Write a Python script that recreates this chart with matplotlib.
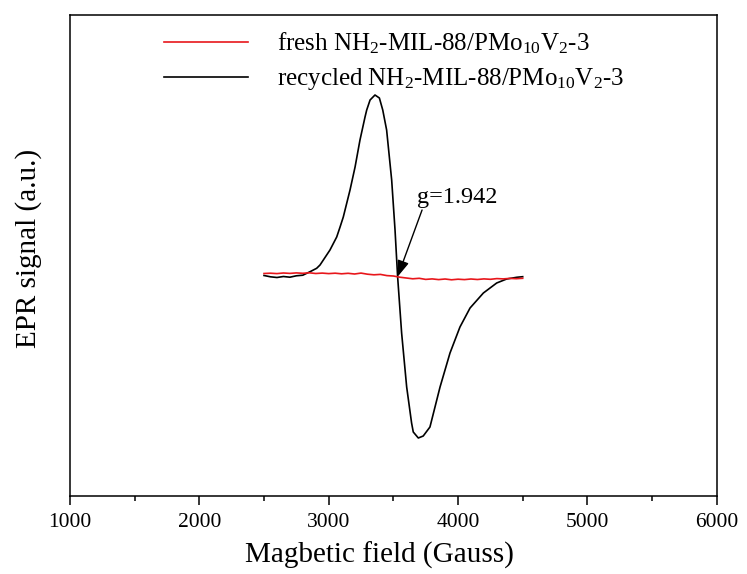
import matplotlib
matplotlib.use("Agg")
import matplotlib.pyplot as plt
from matplotlib.ticker import MultipleLocator

plt.rcParams['font.family'] = ['Liberation Serif', 'DejaVu Serif']
plt.rcParams['mathtext.fontset'] = 'custom'
plt.rcParams['mathtext.rm'] = 'Liberation Serif'
plt.rcParams['mathtext.it'] = 'Liberation Serif:italic'

# Magnetic field (Gauss) and EPR signal (a.u.)
fresh_field = [2500, 2550, 2600, 2650, 2700, 2750, 2800, 2850, 2900, 2950,
               3000, 3050, 3100, 3150, 3200, 3250, 3300, 3350, 3400, 3450,
               3500, 3550, 3600, 3650, 3700, 3750, 3800, 3850, 3900, 3950,
               4000, 4050, 4100, 4150, 4200, 4250, 4300, 4350, 4400, 4450, 4500]
fresh_signal = [2.5, 2.8, 2.4, 3.0, 2.6, 3.1, 2.7, 3.2, 2.5, 2.9,
                2.4, 2.8, 2.2, 2.7, 2.0, 2.9, 1.8, 1.2, 1.6, 0.4,
                0.0, -1.2, -2.0, -2.8, -2.3, -3.4, -2.9, -3.6, -3.0, -3.8,
                -3.2, -3.6, -3.0, -3.5, -2.9, -3.3, -2.6, -2.9, -2.4, -2.7, -2.3]

recycled_field = [2500, 2550, 2600, 2650, 2700, 2750, 2800, 2856, 2907, 2933,
                  3010, 3062, 3088, 3113, 3165, 3204, 3242, 3281, 3294, 3320,
                  3358, 3392, 3418, 3448, 3487, 3513, 3533, 3564, 3603, 3641,
                  3654, 3693, 3731, 3783, 3861, 3938, 4015, 4093, 4196, 4299,
                  4376, 4454, 4500]
recycled_signal = [0.5, -0.8, -1.5, -0.5, -1.2, 0.2, 0.8, 4.3, 7.7, 11,
                   26, 39, 49, 59, 86, 109, 136, 159, 166, 176,
                   181, 178, 166, 146, 96, 46, -0.7, -57, -111, -147,
                   -156, -162, -160, -151, -111, -77, -51, -32, -17, -7,
                   -3, -1.3, -0.7]

labels = [r'fresh NH$_2$-MIL-88/PMo$_{10}$V$_2$-3',
          r'recycled NH$_2$-MIL-88/PMo$_{10}$V$_2$-3']
g_label = 'g=1.942'
g_point = (3533, -0.7)

fig = plt.figure(figsize=(7.47, 5.74), dpi=100)
ax = fig.add_axes([70 / 747, 1 - 496 / 574, 646.7 / 747, 481.5 / 574])

ax.plot(recycled_field, recycled_signal, color='black', lw=1.2, label=labels[1], zorder=2)
ax.plot(fresh_field, fresh_signal, color='#e8161b', lw=1.2, label=labels[0], zorder=3)

ax.set_xlim(1000, 6000)
ax.set_ylim(-220, 261.5)
ax.xaxis.set_major_locator(MultipleLocator(1000))
ax.xaxis.set_minor_locator(MultipleLocator(500))
ax.tick_params(axis='x', which='major', direction='out', length=6.5, width=1.1,
               labelsize=15.5, pad=6)
ax.tick_params(axis='x', which='minor', direction='out', length=3.8, width=1.1)
ax.set_yticks([])
for s in ax.spines.values():
    s.set_linewidth(1.1)

ax.set_xlabel('Magbetic field (Gauss)', fontsize=21, labelpad=2)
ax.xaxis.set_label_coords(0.478, -0.094)
ax.set_ylabel('EPR signal (a.u.)', fontsize=21)
ax.yaxis.set_label_coords(-0.044, 0.515)

handles, labs = ax.get_legend_handles_labels()
order = [1, 0]
leg = ax.legend([handles[i] for i in order], [labs[i] for i in order],
                loc='upper left', bbox_to_anchor=(0.13, 0.988), frameon=False,
                fontsize=18, handlelength=3.35, handletextpad=1.16,
                labelspacing=0.42, borderaxespad=0)

ax.text(3680, 73, g_label, fontsize=17.5, ha='left', va='baseline')
ax.annotate('', xy=g_point, xytext=(3722, 66),
            arrowprops=dict(arrowstyle='-|>,head_length=0.7,head_width=0.25',
                            color='black', lw=1.0, shrinkA=0, shrinkB=0,
                            mutation_scale=14))

fig.savefig('out.png', dpi=100)
